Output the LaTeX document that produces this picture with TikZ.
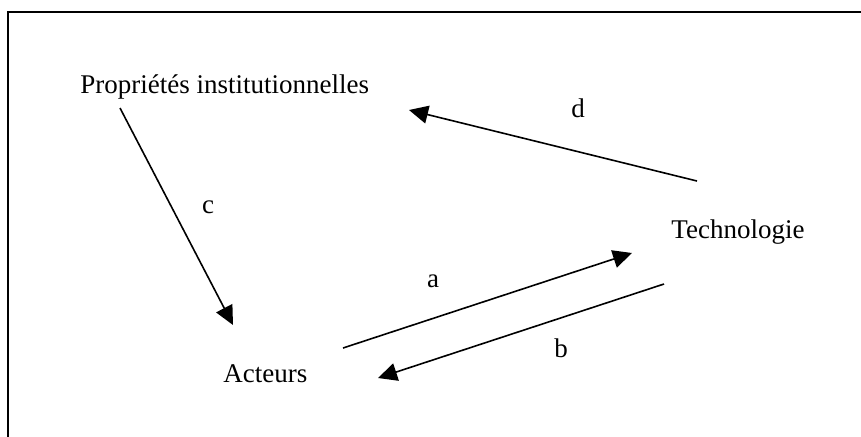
\documentclass[tikz,border=0pt]{standalone}
\usepackage{fontspec}
\setmainfont{Liberation Serif}
\usetikzlibrary{arrows.meta,positioning}

\begin{document}
\begin{tikzpicture}[
  x=0.5pt, y=-0.5pt,
  lbl/.style={inner sep=0pt, anchor=base west, font=\fontsize{13.5}{16}\selectfont},
  let/.style={inner sep=0pt, anchor=base, font=\fontsize{13.5}{16}\selectfont},
  arrow/.style={-{Triangle[length=9.5pt,width=9pt]}, line width=0.8pt}
]
  \useasboundingbox (0,0) rectangle (861,436);
  \begin{scope}
    \clip (0,0) rectangle (861,436);
    \draw[line width=0.8pt] (8,460) |- (880,12);
  \end{scope}
  % the three poles
  \node[lbl] (prop) at (80,93) {Propriétés institutionnelles};
  \node[lbl] (tech) at (671,238) {Technologie};
  \node[lbl] (act) at (223,382) {Acteurs};
  % links
  \draw[arrow] ([shift={(40,15)}]prop.base west) -- ([shift={(10,-57)}]act.base west);
  \draw[arrow] ([shift={(26,-57)}]tech.base west) -- ([shift={(329,17)}]prop.base west);
  \draw[arrow] ([shift={(120,-34)}]act.base west) -- ([shift={(-39,15)}]tech.base west);
  \draw[arrow] ([shift={(-7,46)}]tech.base west) -- ([shift={(155,-4)}]act.base west);
  \node[let] (la) at (433,287) {a};
  \node[let] (lb) at (561,357) {b};
  \node[let] (lc) at (208,213) {c};
  \node[let] (ld) at (578,117) {d};
\end{tikzpicture}
\end{document}
